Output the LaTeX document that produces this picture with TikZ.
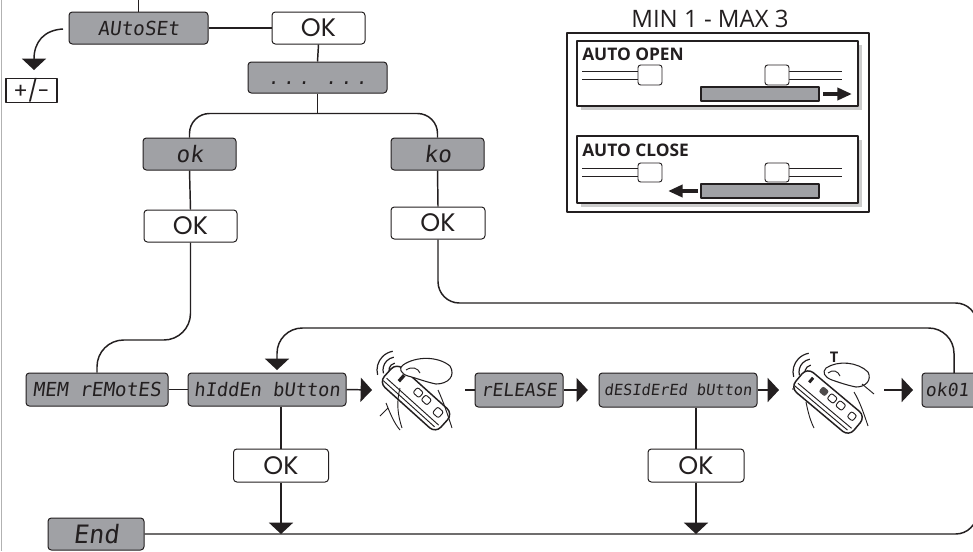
\documentclass[tikz,border=0pt]{standalone}
\usepackage{fontspec}
\setmainfont{Liberation Sans}
\newfontfamily\okfont{Poppins}
\newfontfamily\myriad{Open Sans}
\newfontfamily\lcdfont[FakeSlant=0.12]{DejaVu Sans Mono}
\usetikzlibrary{arrows.meta,calc}
\definecolor{lcdgray}{RGB}{160,161,165}
\definecolor{ink}{RGB}{35,31,32}
\newcommand\lcdf[1]{\lcdfont\fontsize{#1}{#1}\selectfont}
\newcommand\okf[1]{\okfont\fontsize{#1}{#1}\selectfont}
\tikzset{
  lcd/.style={draw=ink, fill=lcdgray, rounded corners=2.5pt, line width=0.75pt, inner sep=0pt, text=ink},
  okb/.style={draw=ink, fill=white, rounded corners=2.5pt, line width=0.75pt, inner sep=0pt, text=ink, font=\okf{19}, minimum width=69.75pt, minimum height=24pt},
  conn/.style={draw=ink, line width=1.1pt},
  tip/.style={-{Triangle[width=18pt,length=8.5pt]}},
  thinl/.style={draw=ink, line width=0.6pt},
  panelbox/.style={draw=ink, fill=white, line width=0.8pt},
  shadow/.style={fill=gray!40},
  sliderknob/.style={draw=ink, fill=white, line width=0.7pt, rounded corners=2pt},
  bar/.style={draw=ink, fill=lcdgray, line width=0.9pt},
  fatarrow/.style={draw=ink, line width=3pt, -{Triangle[width=9pt,length=11pt]}},
  art/.style={draw=ink, line width=0.7pt},
}
\begin{document}
\begin{tikzpicture}[x=0.75pt,y=-0.75pt,line join=round]
\clip (0,0) rectangle (973,551);
\fill[white] (0,0) rectangle (973,551);
% left border
\draw[gray!60, line width=1.2pt] (1.5,0) -- (1.5,551);

% ---------- nodes ----------
\node[lcd, minimum width=104.25pt, minimum height=24pt, font=\lcdf{14.5}] (autoset) at (138.5,28) {AUtoSEt};
\node[okb] (oktop) at (318.5,28) {OK};
\node[draw=ink, line width=0.8pt, fill=white, inner sep=0pt, minimum width=38.25pt, minimum height=17.25pt, font=\okf{16}, text=ink] (pm) at (31.5,90.5) {+/-};
\node[lcd, minimum width=104.25pt, minimum height=23.25pt, font=\lcdf{14}] (dots) at (317.5,77.5) {\vphantom{A}.\hspace{3pt}.\hspace{3pt}.\hspace{12pt}.\hspace{3pt}.\hspace{3pt}.};
\node[lcd, minimum width=69.75pt, minimum height=24pt, font=\lcdf{17}] (okg) at (189.5,154) {ok};
\node[lcd, minimum width=69.75pt, minimum height=24pt, font=\lcdf{17}] (kog) at (437.5,154) {ko};
\node[okb] (okA) at (190.5,226) {OK};
\node[okb, minimum width=70.5pt] (okB) at (438,223) {OK};
\node[lcd, minimum width=106.5pt, minimum height=24.75pt, font=\lcdf{14.5}] (mem) at (97,389.5) {MEM rEMotES};
\node[lcd, minimum width=118.5pt, minimum height=24.75pt, font=\lcdf{14}] (hidden) at (267,389.5) {hIddEn bUtton};
\node[lcd, minimum width=66pt, minimum height=25.5pt, font=\lcdf{13.5}] (release) at (519,390) {rELEASE};
\node[lcd, minimum width=118.5pt, minimum height=25.5pt, font=\lcdf{11.5}] (desired) at (678,390) {dESIdErEd bUtton};
% ok01 display: its box runs past the right edge
\draw[draw=ink, fill=lcdgray, rounded corners=2.5pt, line width=0.75pt] (922,373) rectangle (995,407);
\node[inner sep=0pt, minimum width=37.5pt, minimum height=25.5pt, font=\lcdf{13.5}, text=ink] (ok01) at (947,390) {ok01};
\node[okb, minimum width=71.25pt, minimum height=24.75pt] (okC) at (281,465.5) {OK};
\node[okb, minimum width=72pt, minimum height=24.75pt] (okD) at (696,465.5) {OK};
\node[lcd, minimum width=72pt, minimum height=24pt, font=\lcdf{19}] (end) at (96,534) {End};

% ---------- connectors ----------
\coordinate (topin) at (138.5,-5);
\draw[conn] (topin) -- (autoset.north);
\draw[conn] (autoset.east) -- (oktop.west);
\coordinate (asl) at (63,29);
\coordinate (pmtip) at (34,70);
\draw[conn, tip] (asl) .. controls (44,30) and (34,42) .. (pmtip);
\draw[conn] (oktop.south) -- (dots.north);
\coordinate (split) at ($(dots.south)+(0,20)$);
\draw[conn] (dots.south) -- (split);
\draw[conn, rounded corners=15pt] (split) -| (okg.north);
\draw[conn, rounded corners=15pt] (split) -| (kog.north);
\draw[conn] (okg.south) -- (okA.north);
\draw[conn] (kog.south) -- (okB.north);
\coordinate (memturn) at (97,340);
\draw[conn, rounded corners=20pt] (okA.south) |- (memturn) -- (mem.north);
\coordinate (rtop) at (977,303);
\draw[conn, rounded corners=16pt] (okB.south) |- (rtop) |- (end.east);
\draw[conn] (mem.east) -- (hidden.west);
\coordinate (r1in) at (372,390);
\coordinate (r1out) at (465,390);
\draw[conn, tip] (hidden.east) -- (r1in);
\draw[conn] (r1out) -- (release.west);
\draw[conn, tip] (release.east) -- ([xshift=-8pt]desired.west);
\coordinate (r2in) at (779,390);
\coordinate (r2out) at (884,390);
\coordinate (ok01in) at (913,390);
\coordinate (ok01top) at (954,373);
\draw[conn, tip] (desired.east) -- (r2in);
\draw[conn, tip] (r2out) -- (ok01in);
\coordinate (loopc) at (277,328);
\coordinate (looptip) at (277,370);
\draw[conn, tip, rounded corners=19pt] (ok01top) |- (loopc) -- (looptip);
\draw[conn] (okC.north |- hidden.south) -- (okC.north);
\draw[conn, tip] (okC.south) -- (okC.south |- end.east);
\draw[conn] (okD.north |- desired.south) -- (okD.north);
\draw[conn, tip] (okD.south) -- (okD.south |- end.east);

% ---------- top right panel ----------
\node[anchor=base, inner sep=0pt, font=\myriad\fontsize{18}{18}\selectfont, text=ink] (minmax) at (710,27) {MIN 1 - MAX 3};
\draw[ink, line width=1.1pt] (567,33) rectangle (869,212);
% auto open
\fill[shadow] (581,45) rectangle (862,110);
\draw[panelbox] (577,41) rectangle (858,106);
\node[anchor=base west, inner sep=0pt, font=\myriad\bfseries\fontsize{13}{13}\selectfont, text=ink] (aopen) at (582,60) {AUTO OPEN};
\draw[thinl] (582,71) -- (638,71) (582,79) -- (638,79);
\draw[sliderknob] (638,65) rectangle (662,85);
\draw[thinl] (789,71) -- (842,71) (789,79) -- (842,79);
\draw[sliderknob] (765,65) rectangle (789,85);
\draw[bar] (701,87) rectangle (819,101);
\draw[fatarrow] (823,94) -- (852,94);
% auto close
\fill[shadow] (581,140) rectangle (862,207);
\draw[panelbox] (577,136) rectangle (858,203);
\node[anchor=base west, inner sep=0pt, font=\myriad\bfseries\fontsize{13}{13}\selectfont, text=ink] (aclose) at (582,156) {AUTO CLOSE};
\draw[thinl] (582,168) -- (638,168) (582,176) -- (638,176);
\draw[sliderknob] (638,163) rectangle (662,182);
\draw[thinl] (789,168) -- (842,168) (789,176) -- (842,176);
\draw[sliderknob] (765,163) rectangle (789,182);
\draw[bar] (701,184) rectangle (819,198);
\draw[fatarrow] (698,191) -- (668,191);

% ---------- remote 1 ----------
\begin{scope}[shift={(416,398)}]
  \foreach \r in {7,13,19}
    \draw[art, line width=0.9pt] ($(-20,-28)+(165:\r)$) arc[start angle=165, end angle=260, radius=\r];
  \begin{scope}[rotate=-42]
    \draw[art, fill=white, line width=1.1pt, rounded corners=6pt] (-38,-13) rectangle (38,13);
    \draw[art] (-35,5) -- (35,5);
    \draw[art] (-36,9) -- (33,9);
    \draw[art, line width=2.5pt] (-24,-9) -- (-24,-1);
    \draw[art, rounded corners=1.5pt] (-6,-9) rectangle (2,-2);
    \draw[art, rounded corners=1.5pt] (5,-9) rectangle (13,-2);
    \draw[art, rounded corners=1.5pt] (22,-8) rectangle (30,0);
  \end{scope}
  \draw[art, fill=white, line width=0.8pt] (-13,-33) .. controls (0,-42) and (22,-42) .. (34,-32) .. controls (40,-22) and (32,-14) .. (20,-14) .. controls (10,-16) and (0,-20) .. (-8,-22) .. controls (-15,-24) and (-18,-30) .. (-13,-33) -- cycle;
  \draw[art] (-10,-28) .. controls (-4,-32) and (2,-30) .. (4,-25);
  \draw[art] (-16,-10) .. controls (-20,5) and (-18,18) .. (-14,30);
  \draw[art] (-30,5) .. controls (-26,15) and (-22,25) .. (-16,32);
  \draw[art] (22,-8) .. controls (28,5) and (32,18) .. (36,30);
  \draw[art] (-36,18) -- (-28,10);
\end{scope}

% ---------- remote 2 ----------
\begin{scope}[shift={(828,402)}]
  \foreach \r in {7,13,19}
    \draw[art, line width=0.9pt] ($(-16,-30)+(165:\r)$) arc[start angle=165, end angle=260, radius=\r];
  \node[inner sep=0pt, font=\myriad\bfseries\fontsize{11}{11}\selectfont, text=ink] (tlabel) at (6,-45) {T};
  \begin{scope}[rotate=-40]
    \draw[art, fill=white, line width=1.1pt, rounded corners=6pt] (-38,-13) rectangle (38,13);
    \draw[art] (-35,5) -- (35,5);
    \draw[art] (-36,9) -- (33,9);
    \draw[art, line width=2.2pt] (-27,-9) -- (-27,-3);
    \fill[ink!80, rounded corners=1.5pt] (-14,-9) rectangle (-6,-2);
    \draw[art, rounded corners=1.5pt] (-3,-9) rectangle (5,-2);
    \draw[art, rounded corners=1.5pt] (8,-9) rectangle (16,-2);
    \draw[art, rounded corners=1.5pt] (24,-8) rectangle (31,-1);
  \end{scope}
  \draw[art, fill=white, line width=0.8pt] (-2,-34) .. controls (10,-42) and (30,-40) .. (40,-30) .. controls (44,-22) and (38,-15) .. (28,-15) .. controls (18,-17) and (10,-20) .. (4,-22) .. controls (-4,-25) and (-6,-30) .. (-2,-34) -- cycle;
  \draw[art] (0,-29) .. controls (5,-33) and (10,-31) .. (12,-26);
  \draw[art] (-22,0) .. controls (-20,10) and (-18,18) .. (-14,26);
  \draw[art] (26,-10) .. controls (32,0) and (36,12) .. (40,24);
  \draw[art] (34,-18) -- (46,-8);
  \fill[ink] (-35,-13) circle (0.8);
\end{scope}
\end{tikzpicture}
\end{document}
